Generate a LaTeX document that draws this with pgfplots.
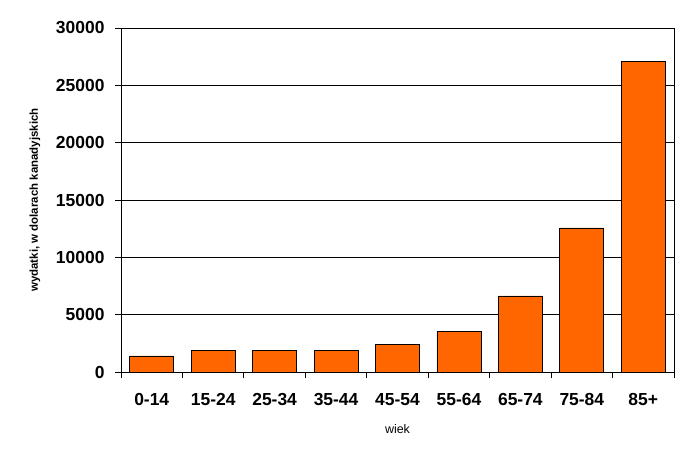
\documentclass[border=0pt]{standalone}
\usepackage{pgfplots}
\pgfplotsset{compat=1.18}
\usepackage{fontspec}
\setmainfont{Liberation Sans}
\definecolor{barorange}{HTML}{FF6600}
\begin{document}
\begin{tikzpicture}
\path[use as bounding box] (-121bp,-82bp) rectangle (565bp,372bp);
\begin{axis}[
  at={(0,0)}, anchor=south west,
  scale only axis,
  width=553bp, height=344bp,
  xmin=-0.5, xmax=8.5,
  ymin=0, ymax=30000,
  ytick={0,5000,...,30000},
  xtick={0,...,8},
  xticklabels={0-14,15-24,25-34,35-44,45-54,55-64,65-74,75-84,85+},
  minor xtick={-0.5,0.5,...,8.5},
  major x tick style={draw=none},
  minor x tick style={black, line width=0.8pt},
  minor tick length=6bp,
  y tick style={black, line width=0.8pt},
  major tick length=6bp,
  tick align=outside,
  xtick pos=bottom, ytick pos=left,
  ymajorgrids,
  grid style={black, line width=0.8pt},
  axis line style={line width=0.8pt},
  scaled y ticks=false,
  /pgf/number format/1000 sep={},
  /pgf/number format/assume math mode=true,
  yticklabel style={font=\bfseries\fontsize{17.5}{20}\selectfont, anchor=east, xshift=-7bp},
  xticklabel style={font=\bfseries\fontsize{17.5}{20}\selectfont, yshift=-12bp},
  ylabel={wydatki, w dolarach kanadyjskich},
  ylabel style={font=\bfseries\fontsize{11.5}{13}\selectfont, yshift=9bp},
  xlabel={wiek},
  xlabel style={font=\fontsize{12.5}{14}\selectfont, yshift=-12bp},
  ybar, bar width=44bp,
]
\addplot[fill=barorange, draw=black, line width=0.8pt] coordinates {
  (0,1400) (1,1900) (2,1900) (3,1900) (4,2400) (5,3550) (6,6630) (7,12560) (8,27060)
};
\end{axis}
\end{tikzpicture}
\end{document}
